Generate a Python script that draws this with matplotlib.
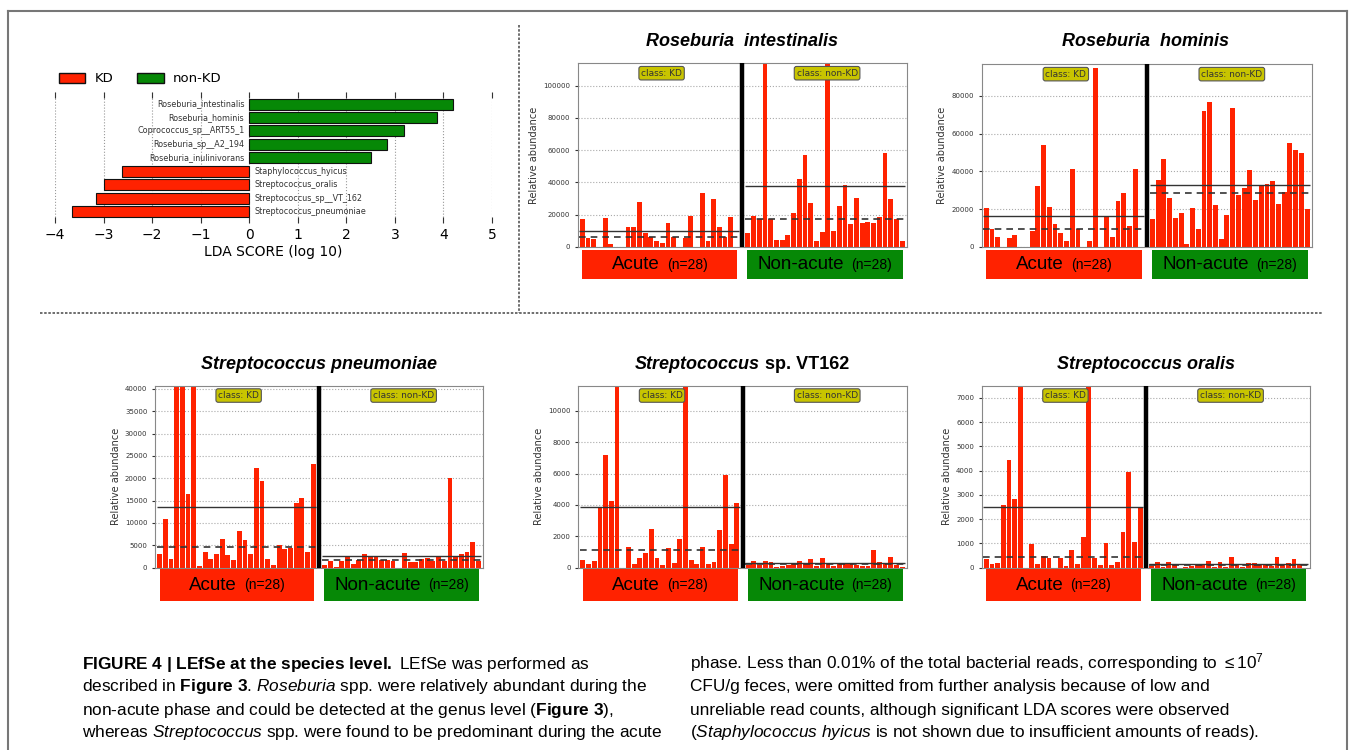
import matplotlib
matplotlib.use("Agg")
import matplotlib.pyplot as plt
from matplotlib.patches import Patch
from matplotlib.lines import Line2D
from matplotlib.offsetbox import TextArea, HPacker, AnchoredOffsetbox, AnnotationBbox
import numpy as np

plt.rcParams['mathtext.fontset'] = 'custom'
plt.rcParams['mathtext.rm'] = 'Liberation Sans'
plt.rcParams['mathtext.it'] = 'Liberation Sans:italic'
plt.rcParams['mathtext.bf'] = 'Liberation Sans:bold'

W, H = 1355, 750
RED = '#ff2200'
GREEN = '#068806'
SANS = 'Liberation Sans'

# ---- LDA scores
lda_features = ['Roseburia_intestinalis', 'Roseburia_hominis', 'Coprococcus_sp__ART55_1',
                'Roseburia_sp__A2_194', 'Roseburia_inulinivorans', 'Staphylococcus_hyicus',
                'Streptococcus_oralis', 'Streptococcus_sp__VT_162', 'Streptococcus_pneumoniae']
lda_scores = [4.2, 3.87, 3.18, 2.83, 2.5, -2.63, -3.0, -3.15, -3.65]
lda_ticks = [-4, -3, -2, -1, 0, 1, 2, 3, 4, 5]

# ---- per-sample abundances (KD = acute, non-KD = non-acute), 28 each
intest_kd = [17000, 5500, 4500, 0, 18000, 1500, 0, 0, 12000, 12000, 27500, 8500, 6000, 3500,
             2500, 15000, 6000, 0, 5500, 19000, 0, 33500, 3500, 29500, 12500, 6000, 18500, 0]
intest_nonkd = [8500, 19000, 17000, 280000, 17000, 4000, 4000, 7500, 21000, 42000, 57000, 27000,
                3500, 9000, 260000, 9500, 25000, 38500, 14000, 30500, 14500, 15500, 15000, 18500,
                58000, 29500, 17000, 3500]
intest_mean = [9800, 38000]
intest_median = [5800, 17000]

hominis_kd = [20500, 9500, 5000, 0, 4500, 6000, 0, 0, 8500, 32000, 54000, 21000, 12000, 7500,
              3000, 41000, 9500, 0, 3000, 95000, 0, 15500, 5000, 24500, 28500, 11000, 41000, 0]
hominis_nonkd = [14500, 35500, 46500, 26000, 15000, 18000, 1500, 20500, 9500, 72000, 77000, 22000,
                 4000, 17000, 73500, 27500, 31000, 40500, 25000, 32500, 33500, 35000, 22500, 29000,
                 55000, 51500, 49500, 20000]
hominis_mean = [16500, 32500]
hominis_median = [9300, 28500]

pneu_kd = [3000, 11000, 2000, 90000, 80000, 16500, 70000, 300, 3500, 2000, 3000, 6500, 2900, 1800,
           8200, 6200, 3000, 22300, 19400, 1900, 700, 5000, 4100, 4400, 14500, 15600, 3600, 23200]
pneu_nonkd = [600, 1400, 100, 1600, 2500, 800, 1800, 3000, 2600, 2600, 1800, 1700, 1600, 0,
              3300, 1300, 1300, 1900, 2200, 1500, 2300, 1400, 20000, 2700, 3000, 3500, 5700, 1400]
pneu_mean = [13500, 2700]
pneu_median = [4700, 1800]

vt_kd = [500, 250, 450, 3900, 7200, 4250, 35000, 0, 1300, 250, 600, 950, 2450, 600, 150, 1250,
         300, 1800, 30000, 500, 250, 1350, 250, 350, 2400, 5900, 1500, 4100]
vt_nonkd = [150, 450, 150, 400, 350, 50, 100, 200, 250, 450, 300, 550, 100, 650, 250, 100, 250,
            250, 250, 150, 100, 100, 1100, 350, 300, 700, 200, 50]
vt_mean = [3850, 280]
vt_median = [1100, 220]

oralis_kd = [350, 150, 180, 2600, 4450, 2850, 22000, 0, 980, 170, 480, 380, 0, 380, 50, 720, 150,
             1280, 22000, 400, 130, 1000, 120, 230, 1470, 3930, 1050, 2500]
oralis_nonkd = [80, 220, 20, 220, 150, 0, 20, 60, 150, 150, 260, 20, 230, 20, 440, 150, 30, 200,
                190, 150, 120, 50, 460, 160, 190, 370, 100, 0]
oralis_mean = [2500, 160]
oralis_median = [450, 120]

group_labels = [('Acute', '(n=28)'), ('Non-acute', '(n=28)')]
class_labels = ['class: KD', 'class: non-KD']


def px(l, t, r, b):
    return [l / W, 1 - b / H, (r - l) / W, (b - t) / H]


fig = plt.figure(figsize=(W / 100, H / 100), dpi=100)

# ---------------- LDA bar chart
ax = fig.add_axes(px(55, 92, 492, 223))
pos = np.arange(len(lda_scores))
cols = [GREEN if s > 0 else RED for s in lda_scores]
ax.barh(pos, lda_scores, height=0.82, color=cols, edgecolor='#111111', linewidth=0.8, zorder=3)
for i, (name, s) in enumerate(zip(lda_features, lda_scores)):
    if s > 0:
        ax.text(-0.1, i, name, ha='right', va='center', fontsize=5.8, color='#333333')
    else:
        ax.text(0.1, i, name, ha='left', va='center', fontsize=5.8, color='#333333')
ax.set_xlim(-4, 5)
ax.set_ylim(8.85, -0.9)
ax.set_xticks(lda_ticks)
ax.set_yticks([])
ax.tick_params(axis='x', direction='in', top=True, bottom=True, length=4, labelsize=10, color='#333333')
for s in ax.spines.values():
    s.set_visible(False)
ax.grid(axis='x', linestyle=':', color='#999999', linewidth=0.8)
ax.set_xlabel('LDA SCORE (log 10)', fontsize=10, labelpad=2)
fig.legend(handles=[Patch(facecolor=RED, edgecolor='#111111', label='KD'),
                    Patch(facecolor=GREEN, edgecolor='#111111', label='non-KD')],
           loc='center left', bbox_to_anchor=(59 / W, 1 - 79 / H), ncol=2, frameon=False,
           fontsize=9.5, handlelength=2.0, handleheight=0.75, handletextpad=0.7,
           columnspacing=1.8, borderpad=0, borderaxespad=0)


def title(x, y, parts):
    kids = [TextArea(t, textprops=dict(fontsize=13, fontweight='bold', fontstyle=st, family=SANS))
            for t, st in parts]
    pack = HPacker(children=kids, align='baseline', pad=0, sep=4)
    fig.add_artist(AnnotationBbox(pack, (x / W, 1 - y / H), xycoords='figure fraction',
                                  frameon=False, box_alignment=(0.5, 0.5)))


def group_box(rect, color, main, sub):
    l, t, r, b = rect
    sh = fig.add_axes(px(l + 2, t + 3, r + 3, b + 4))
    sh.set_facecolor('#d6d6d6')
    sh.set_axis_off()
    sh.patch.set_visible(True)
    sh.set_zorder(0)
    bx = fig.add_axes(px(l, t, r, b))
    bx.set_facecolor(color)
    bx.set_xticks([])
    bx.set_yticks([])
    for s in bx.spines.values():
        s.set_visible(False)
    bx.set_zorder(1)
    pack = HPacker(children=[TextArea(main, textprops=dict(fontsize=13.5, family=SANS)),
                             TextArea(sub, textprops=dict(fontsize=10, family=SANS))],
                   align='baseline', pad=0, sep=5)
    bx.add_artist(AnchoredOffsetbox(loc='center', child=pack, frameon=False, pad=0, borderpad=0))


def panel(rect, kd, nonkd, mean, median, ymax, ystep, title_parts, title_xy, box_tb):
    l, t, r, b = rect
    ax = fig.add_axes(px(l, t, r, b))
    ax.bar(np.arange(28), kd, width=0.85, color=RED, zorder=2)
    ax.bar(np.arange(29, 57), nonkd, width=0.85, color=RED, zorder=2)
    ax.axvline(28, color='black', linewidth=3.2, zorder=4)
    for k, x0, x1 in [(0, -0.5, 27.5), (1, 28.5, 56.5)]:
        ax.hlines(mean[k], x0, x1, colors='#333333', linewidth=1.0, zorder=3)
        ax.hlines(median[k], x0, x1, colors='#333333', linewidth=1.2, linestyles=(0, (4, 3)), zorder=3)
    ax.set_xlim(-0.8, 56.8)
    ax.set_ylim(0, ymax)
    yt = np.arange(0, ymax, ystep)
    ax.set_yticks(yt)
    ax.set_yticklabels([str(int(v)) for v in yt])
    ax.set_xticks([])
    ax.tick_params(axis='y', labelsize=5, colors='#333333', length=2)
    ax.grid(axis='y', linestyle=':', color='#aaaaaa', linewidth=0.8)
    for s in ax.spines.values():
        s.set_color('#888888')
        s.set_linewidth(0.8)
    ax.set_ylabel('Relative abundance', fontsize=7, color='#333333', labelpad=3)
    for k, xf in enumerate([0.255, 0.758]):
        ax.text(xf, 0.946, class_labels[k], transform=ax.transAxes, ha='center', va='center',
                fontsize=6.5, color='#333333', zorder=6,
                bbox=dict(boxstyle='round,pad=0.25', fc='#c8c400', ec='#555555', lw=0.8))
    title(title_xy[0], title_xy[1], title_parts)
    mid = (l + r) / 2
    bt, bb = box_tb
    group_box((l + 4.5, bt, mid - 5, bb), RED, *group_labels[0])
    group_box((mid + 5, bt, r - 4, bb), GREEN, *group_labels[1])


panel((577.7, 63.3, 906.7, 246.7), intest_kd, intest_nonkd, intest_mean, intest_median,
      114000, 20000, [('Roseburia  intestinalis', 'italic')], (742, 41), (250, 279))
panel((981.7, 64.3, 1311.7, 246.7), hominis_kd, hominis_nonkd, hominis_mean, hominis_median,
      96800, 20000, [('Roseburia  hominis', 'italic')], (1146, 41), (250, 279))
panel((155, 385.7, 483, 567.7), pneu_kd, pneu_nonkd, pneu_mean, pneu_median,
      40700, 5000, [('Streptococcus pneumoniae', 'italic')], (319, 364), (569, 601))
panel((578.3, 385.7, 906.7, 567.7), vt_kd, vt_nonkd, vt_mean, vt_median,
      11600, 2000, [('Streptococcus', 'italic'), ('sp. VT162', 'normal')], (742, 364), (569, 601))
panel((981.7, 385.7, 1310, 567.7), oralis_kd, oralis_nonkd, oralis_mean, oralis_median,
      7500, 1000, [('Streptococcus oralis', 'italic')], (1146, 364), (569, 601))

# ---------------- frame and separators
for xs, ys in [([8, 8], [11, 760]), ([8, 1347], [11, 11]), ([1347, 1347], [11, 760])]:
    fig.add_artist(Line2D([x / W for x in xs], [1 - y / H for y in ys], color='#777777',
                          linewidth=1.5))
fig.add_artist(Line2D([519 / W, 519 / W], [1 - 25 / H, 1 - 313 / H], color='#555555',
                      linewidth=1.2, linestyle=(0, (1.5, 1))))
fig.add_artist(Line2D([40 / W, 1322 / W], [1 - 313 / H, 1 - 313 / H], color='#555555',
                      linewidth=1.2, linestyle=(0, (1.5, 1))))

# ---------------- caption
left_lines = [
    r"$\mathbf{FIGURE\ 4\ |\ LEfSe\ at\ the\ species\ level.}$ LEfSe was performed as",
    r"described in $\mathbf{Figure\ 3}$. $\mathit{Roseburia}$ spp. were relatively abundant during the",
    r"non-acute phase and could be detected at the genus level ($\mathbf{Figure\ 3}$),",
    r"whereas $\mathit{Streptococcus}$ spp. were found to be predominant during the acute",
]
right_lines = [
    r"phase. Less than 0.01% of the total bacterial reads, corresponding to $\leq 10^{7}$",
    "CFU/g feces, were omitted from further analysis because of low and",
    "unreliable read counts, although significant LDA scores were observed",
    r"($\mathit{Staphylococcus\ hyicus}$ is not shown due to insufficient amounts of reads).",
]
for i, (ll, rl) in enumerate(zip(left_lines, right_lines)):
    y = 1 - (668.5 + 23 * i) / H
    fig.text(82 / W, y, ll, fontsize=12.4, family=SANS, va='baseline')
    fig.text(690 / W, y, rl, fontsize=12.4, family=SANS, va='baseline')

fig.savefig('out.png', dpi=100)
